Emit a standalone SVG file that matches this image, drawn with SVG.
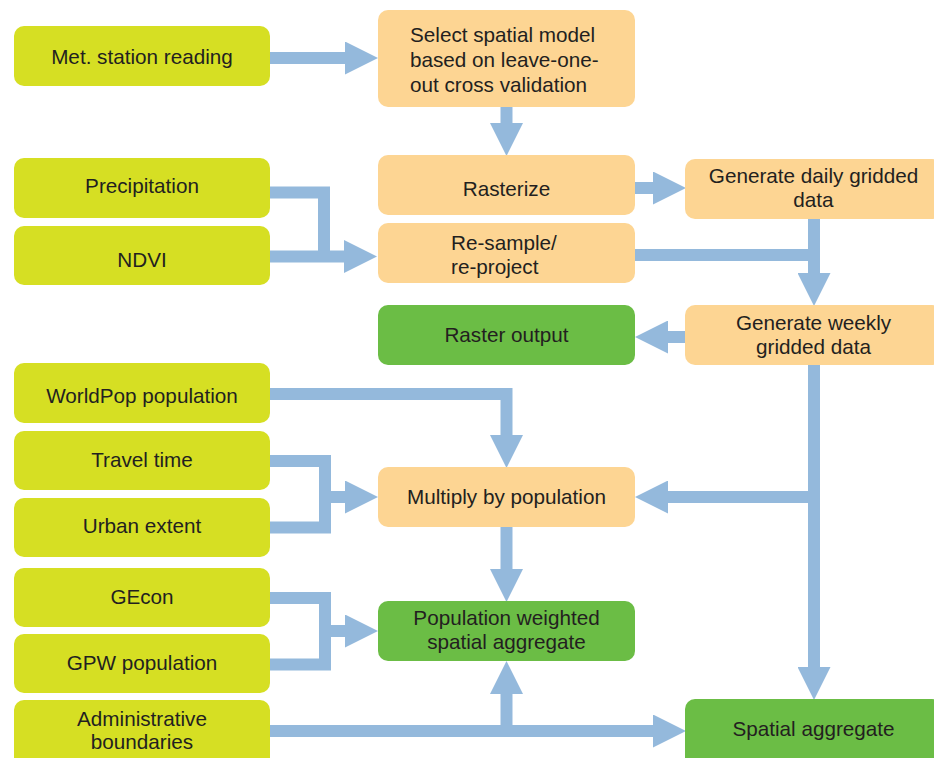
<svg xmlns="http://www.w3.org/2000/svg" width="934" height="758" viewBox="0 0 934 758">
<style>
.in{fill:#d6df23}
.pr{fill:#fdd593}
.out{fill:#6bbd45}
text{font-family:"Liberation Sans",Arial,sans-serif;font-size:20.7px;fill:#231f20}
.c{text-anchor:middle}
.conn path{fill:none;stroke:#94b9dc;stroke-width:12;stroke-linejoin:miter}
</style>
<defs>
<marker id="ah" viewBox="0 0 33 33" refX="0" refY="16.5" markerWidth="33" markerHeight="33" markerUnits="userSpaceOnUse" orient="auto">
<path d="M0,0 L33,16.5 L0,33 z" fill="#94b9dc"/>
</marker>
</defs>
<rect width="934" height="758" fill="#fff"/>
<g class="conn" id="connectors">
<path d="M270,58 H345" marker-end="url(#ah)"/>
<path d="M506.5,107 V123" marker-end="url(#ah)"/>
<path d="M635,188 H653" marker-end="url(#ah)"/>
<path d="M270,192.5 H324 V256.5"/>
<path d="M270,256.5 H344" marker-end="url(#ah)"/>
<path d="M635,255 H814"/>
<path d="M814,219 V273" marker-end="url(#ah)"/>
<path d="M685,337 H668" marker-end="url(#ah)"/>
<path d="M814,365 V667" marker-end="url(#ah)"/>
<path d="M814,497 H668" marker-end="url(#ah)"/>
<path d="M270,394 H506.5 V435" marker-end="url(#ah)"/>
<path d="M270,461 H325 V527.5 H270"/>
<path d="M325,497 H345" marker-end="url(#ah)"/>
<path d="M506.5,527 V569" marker-end="url(#ah)"/>
<path d="M270,598 H325 V664.5 H270"/>
<path d="M325,631 H345" marker-end="url(#ah)"/>
<path d="M270,731 H653" marker-end="url(#ah)"/>
<path d="M506.5,731 V694" marker-end="url(#ah)"/>
</g>
<g id="met"><rect class="in" x="14" y="26" width="256" height="60" rx="10"/><text class="c" x="142" y="64">Met. station reading</text></g>
<g id="precip"><rect class="in" x="14" y="158" width="256" height="60" rx="10"/><text class="c" x="142" y="193">Precipitation</text></g>
<g id="ndvi"><rect class="in" x="14" y="226" width="256" height="59" rx="10"/><text class="c" x="142" y="267">NDVI</text></g>
<g id="worldpop"><rect class="in" x="14" y="363" width="256" height="60" rx="10"/><text class="c" x="142" y="403">WorldPop population</text></g>
<g id="travel"><rect class="in" x="14" y="431" width="256" height="59" rx="10"/><text class="c" x="142" y="467">Travel time</text></g>
<g id="urban"><rect class="in" x="14" y="498" width="256" height="59" rx="10"/><text class="c" x="142" y="533">Urban extent</text></g>
<g id="gecon"><rect class="in" x="14" y="568" width="256" height="59" rx="10"/><text class="c" x="142" y="604">GEcon</text></g>
<g id="gpw"><rect class="in" x="14" y="634" width="256" height="59" rx="10"/><text class="c" x="142" y="670">GPW population</text></g>
<g id="admin"><rect class="in" x="14" y="700" width="256" height="70" rx="10"/><text class="c" x="142" y="726">Administrative</text><text class="c" x="142" y="749">boundaries</text></g>
<g id="select"><rect class="pr" x="378" y="10" width="257" height="97" rx="10"/><text x="410" y="42">Select spatial model</text><text x="410" y="67">based on leave-one-</text><text x="410" y="92">out cross validation</text></g>
<g id="rasterize"><rect class="pr" x="378" y="155" width="257" height="60" rx="10"/><text class="c" x="506.5" y="196">Rasterize</text></g>
<g id="resample"><rect class="pr" x="378" y="223" width="257" height="60" rx="10"/><text x="451" y="250">Re-sample/</text><text x="451" y="274">re-project</text></g>
<g id="daily"><rect class="pr" x="685" y="159" width="257" height="60" rx="10"/><text class="c" x="813.5" y="183">Generate daily gridded</text><text class="c" x="813.5" y="207">data</text></g>
<g id="raster"><rect class="out" x="378" y="305" width="257" height="60" rx="10"/><text class="c" x="506.5" y="342">Raster output</text></g>
<g id="weekly"><rect class="pr" x="685" y="305" width="257" height="60" rx="10"/><text class="c" x="813.5" y="330">Generate weekly</text><text class="c" x="813.5" y="354">gridded data</text></g>
<g id="multiply"><rect class="pr" x="378" y="467" width="257" height="60" rx="10"/><text class="c" x="506.5" y="504">Multiply by population</text></g>
<g id="popweighted"><rect class="out" x="378" y="601" width="257" height="60" rx="10"/><text class="c" x="506.5" y="625">Population weighted</text><text class="c" x="506.5" y="649">spatial aggregate</text></g>
<g id="spatial"><rect class="out" x="685" y="699" width="257" height="70" rx="10"/><text class="c" x="813.5" y="736">Spatial aggregate</text></g>
</svg>
